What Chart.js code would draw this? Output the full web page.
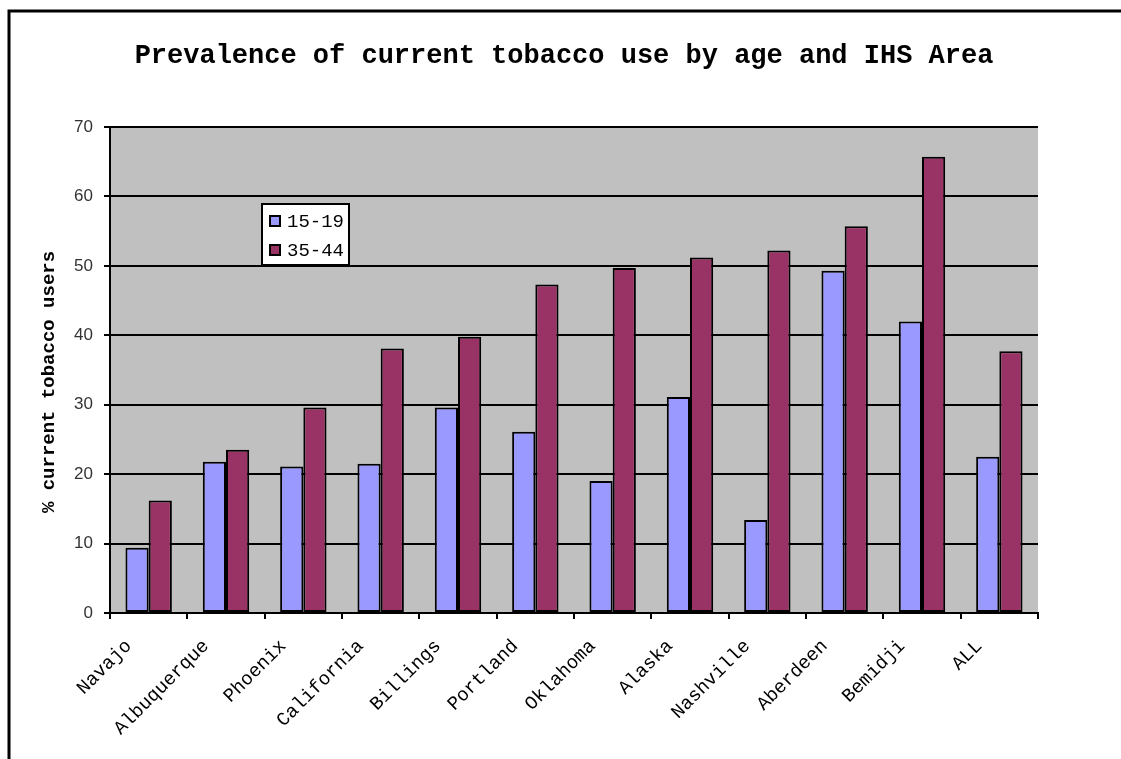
<!DOCTYPE html>
<html>
<head>
<meta charset="utf-8">
<title>Prevalence of current tobacco use by age and IHS Area</title>
<script src="https://cdn.jsdelivr.net/npm/chart.js@4/dist/chart.umd.min.js"></script>
<style>
  html, body { margin: 0; padding: 0; background: #ffffff; overflow: hidden; }
  #wrap { width: 1121px; height: 759px; position: relative; }
</style>
</head>
<body>
<div id="wrap"><canvas id="chart" width="1121" height="759"></canvas></div>
<script>
// IHS Areas (x categories)
const areas = ['Navajo', 'Albuquerque', 'Phoenix', 'California', 'Billings', 'Portland',
               'Oklahoma', 'Alaska', 'Nashville', 'Aberdeen', 'Bemidji', 'ALL'];

// % current tobacco users, ages 15-19
const age15to19 = [9.4, 21.8, 21.1, 21.5, 29.6, 26.1, 19.0, 31.1, 13.4, 49.3, 42.0, 22.5];

// % current tobacco users, ages 35-44
const age35to44 = [16.2, 23.5, 29.6, 38.1, 39.8, 47.3, 49.7, 51.2, 52.2, 55.7, 65.7, 37.7];

const seriesNames = ['15-19', '35-44'];
const seriesColors = ['#9999FF', '#993366'];

const chartTitle = 'Prevalence of current tobacco use by age and IHS Area';
const yAxisTitle = '% current tobacco users';
const yMin = 0, yMax = 70, yStep = 10;

const MONO = "'Courier New', 'Liberation Mono', monospace";
const SANS = "Arial, 'Liberation Sans', sans-serif";

// Grey plot background, outer frame, title, axis title and boxed legend
const decorations = {
  id: 'decorations',
  beforeDraw(chart) {
    const { ctx, chartArea: a } = chart;
    ctx.save();
    ctx.fillStyle = '#ffffff';
    ctx.fillRect(0, 0, chart.width, chart.height);
    ctx.fillStyle = '#C0C0C0';
    ctx.fillRect(a.left, a.top, a.right - a.left, a.bottom - a.top);
    ctx.restore();
  },
  afterDraw(chart) {
    const { ctx } = chart;
    ctx.save();
    // outer frame
    ctx.strokeStyle = '#000000';
    ctx.lineWidth = 3;
    ctx.strokeRect(9, 11, chart.width + 20, chart.height + 20);

    // chart title
    ctx.fillStyle = '#000000';
    ctx.font = 'bold 27px ' + MONO;
    ctx.textAlign = 'center';
    ctx.textBaseline = 'middle';
    ctx.fillText(chartTitle, 564, 56);

    // y axis title
    ctx.save();
    ctx.translate(49, 382);
    ctx.rotate(-Math.PI / 2);
    ctx.font = 'bold 19px ' + MONO;
    ctx.fillText(yAxisTitle, 0, 0);
    ctx.restore();

    // legend box
    const lx = 262, ly = 204, lw = 87, lh = 61;
    ctx.fillStyle = '#ffffff';
    ctx.fillRect(lx, ly, lw, lh);
    ctx.strokeStyle = '#000000';
    ctx.lineWidth = 2;
    ctx.strokeRect(lx, ly, lw, lh);
    ctx.font = '19px ' + MONO;
    ctx.textAlign = 'left';
    ctx.textBaseline = 'middle';
    chart.data.datasets.forEach((ds, i) => {
      const cy = 221 + i * 29;
      ctx.fillStyle = ds.backgroundColor;
      ctx.fillRect(270, cy - 5, 10, 10);
      ctx.lineWidth = 2;
      ctx.strokeStyle = '#000000';
      ctx.strokeRect(270, cy - 5, 10, 10);
      ctx.fillStyle = '#000000';
      ctx.fillText(ds.label, 287, cy + 1);
    });
    ctx.restore();
  }
};

new Chart(document.getElementById('chart'), {
  type: 'bar',
  data: {
    labels: areas,
    datasets: [
      { label: seriesNames[0], data: age15to19, backgroundColor: seriesColors[0] },
      { label: seriesNames[1], data: age35to44, backgroundColor: seriesColors[1] }
    ]
  },
  options: {
    responsive: false,
    animation: false,
    devicePixelRatio: 1,
    layout: { padding: { top: 127, right: 83, bottom: 0, left: 0 } },
    datasets: {
      bar: {
        borderColor: '#000000',
        borderWidth: 2,
        borderSkipped: false,
        categoryPercentage: 0.6,
        barPercentage: 1.0
      }
    },
    plugins: {
      legend: { display: false },
      title: { display: false },
      tooltip: { enabled: false }
    },
    scales: {
      x: {
        type: 'category',
        offset: true,
        afterFit(s) { s.height = 146; },
        grid: {
          offset: true,
          drawOnChartArea: false,
          drawTicks: true,
          tickLength: 6,
          color: '#000000',
          lineWidth: 2
        },
        border: { display: true, color: '#000000', width: 2 },
        ticks: {
          autoSkip: false,
          minRotation: 45,
          maxRotation: 45,
          padding: 16,
          labelOffset: -20,
          color: '#000000',
          font: { family: MONO, size: 19 }
        }
      },
      y: {
        min: yMin,
        max: yMax,
        afterFit(s) { s.width = 110; },
        grid: {
          color: '#000000',
          lineWidth: 2,
          drawTicks: true,
          tickLength: 6
        },
        border: { display: true, color: '#000000', width: 2 },
        ticks: {
          stepSize: yStep,
          padding: 11,
          color: '#333333',
          font: { family: SANS, size: 17 }
        }
      }
    }
  },
  plugins: [decorations]
});
</script>
</body>
</html>
